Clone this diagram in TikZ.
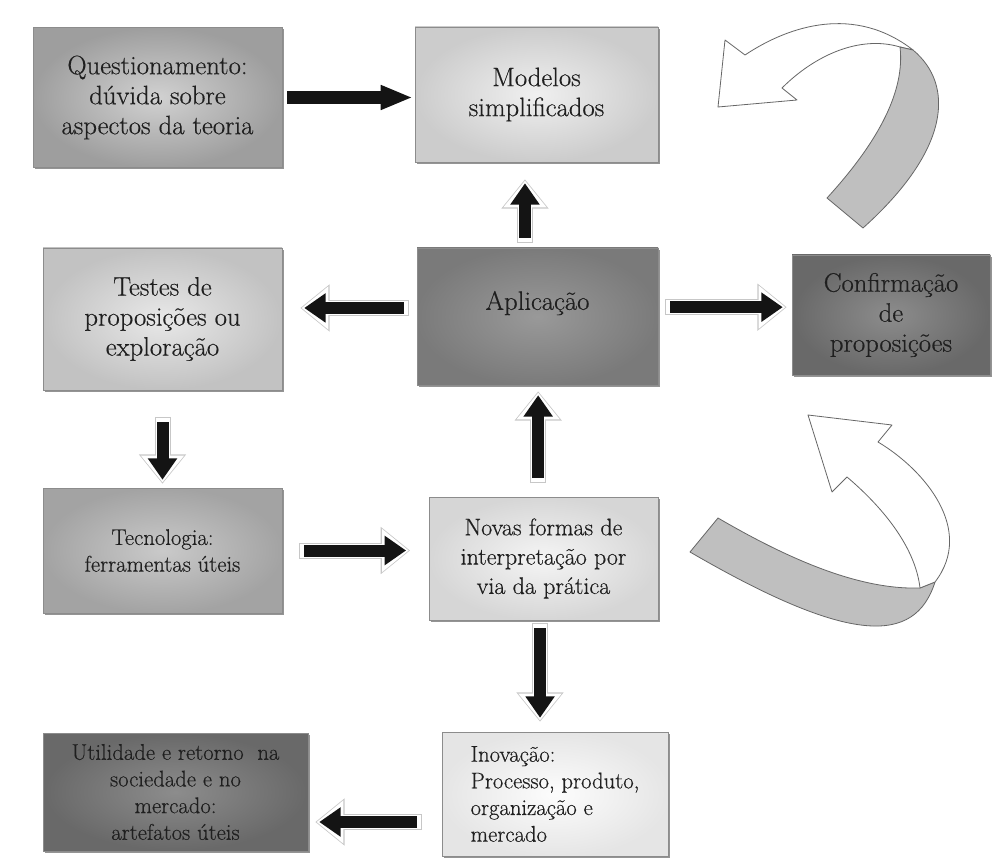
\documentclass[tikz,border=0pt]{standalone}
\usepackage{fontspec}
\newfontfamily\caixafont{Latin Modern Roman}[FakeBold=0.45]
\usetikzlibrary{arrows.meta,shadows}
\tikzset{
  caixa/.style={draw=black!45, line width=0.4pt, inner sep=0pt, align=center, text=black!88,
    drop shadow={shadow xshift=1.2pt, shadow yshift=-1.5pt, opacity=0.6, fill=black!70}},
  grande/.style={font=\caixafont\fontsize{20}{22.5}\selectfont},
  media/.style={font=\caixafont\fontsize{18}{22}\selectfont},
  pequena/.style={font=\caixafont\fontsize{17}{20}\selectfont},
  seta/.style={line width=9pt, black!92, -{Triangle[length=16pt,width=21pt]}},
  brilho/.style={line width=12pt, black!22, shorten <=-4pt, shorten >=-3pt, -{Triangle[length=22pt,width=34pt]}},
  brilhoin/.style={line width=10.5pt, white, shorten <=-3.3pt, shorten >=-2pt, -{Triangle[length=20pt,width=31pt]}},
  fita/.style={draw=black!60, line width=0.6pt, line join=round}
}
\begin{document}
\begin{tikzpicture}[x=0.75pt, y=-0.75pt]
  \useasboundingbox (0,0) rectangle (992,859);
  % caixas
  \node[caixa, grande, minimum width=186.75pt, minimum height=105pt, inner color=black!18, outer color=black!38] (a) at (157.5,97.5)
    {Questionamento:\\ dúvida sobre\\ aspectos da teoria};
  \node[caixa, grande, minimum width=182.25pt, minimum height=101.25pt, inner color=black!6, outer color=black!20] (b) at (536.5,94.5)
    {Modelos\\ simplificados};
  \node[caixa, grande, minimum width=180.75pt, minimum height=102.75pt, inner color=black!40, outer color=black!52,
    text height=15pt, text depth=25pt] (c) at (537.5,316.5) {Aplicação};
  \node[caixa, grande, minimum width=179.25pt, minimum height=106.5pt, inner color=black!9, outer color=black!24] (d) at (162.5,319)
    {Testes de\\ proposições ou\\ exploração};
  \node[caixa, grande, minimum width=148.5pt, minimum height=90pt, inner color=black!45, outer color=black!59] (e) at (891,315)
    {Confirmação\\ de\\ proposições};
  \node[caixa, pequena, minimum width=179.25pt, minimum height=93.75pt, inner color=black!21, outer color=black!36] (f) at (162.5,550.5)
    {Tecnologia:\\ ferramentas úteis};
  \node[caixa, media, minimum width=171.75pt, minimum height=92.25pt, inner color=black!4, outer color=black!16] (g) at (543.5,558.5)
    {Novas formas de\\ interpretação por\\ via da prática};
  \node[caixa, pequena, align=left, minimum width=169.5pt, minimum height=93pt, inner color=black!1, outer color=black!10] (h) at (555,794)
    {Inovação:\\ Processo, produto,\\ organização e\\ mercado};
  \node[caixa, pequena, minimum width=198.75pt, minimum height=88.5pt, inner color=black!45, outer color=black!59] (i) at (175.5,792)
    {Utilidade e retorno\ \ na\\ sociedade e no\\ mercado:\\ artefatos úteis};

  % setas
  \draw[line width=9.5pt, black!92, -{Triangle[length=24pt,width=17pt]}] ([xshift=3.75pt]a.east) -- ([xshift=-1.5pt]a.east -| b.west);
  \coordinate (s2) at ([xshift=-9.4pt,yshift=7.5pt]c.north);
  \coordinate (t2) at ([xshift=-9.4pt,yshift=-15.75pt]c.north |- b.south);
  \coordinate (s3) at ([xshift=-9.75pt,yshift=6.4pt]c.west);
  \coordinate (t3) at ([xshift=16.5pt,yshift=6.4pt]c.west -| d.east);
  \coordinate (s4) at ([xshift=9pt,yshift=7pt]c.east);
  \coordinate (t4) at ([xshift=-6.75pt,yshift=7pt]c.east -| e.west);
  \coordinate (s5) at ([yshift=-24pt]d.south);
  \coordinate (t5) at ([yshift=6pt]d.south |- f.north);
  \coordinate (s6) at ([xshift=16.5pt]f.east);
  \coordinate (t6) at ([xshift=-17pt]f.east -| g.west);
  \coordinate (s7) at ([xshift=-4pt,yshift=14pt]g.north);
  \coordinate (t7) at ([xshift=-4pt,yshift=-7.5pt]g.north |- c.south);
  \coordinate (s8) at ([xshift=-2.6pt,yshift=-6pt]g.south);
  \coordinate (t8) at ([xshift=-2.6pt,yshift=10.5pt]g.south |- h.north);
  \coordinate (s9) at ([xshift=-18.75pt,yshift=-21pt]h.west);
  \coordinate (t9) at ([xshift=8.25pt,yshift=-21pt]h.west -| i.east);
  \foreach \p/\q in {s2/t2, s3/t3, s4/t4, s5/t5, s6/t6, s7/t7, s8/t8, s9/t9} {
    \draw[brilho] (\p) -- (\q);
    \draw[brilhoin] (\p) -- (\q);
    \draw[seta] (\p) -- (\q);
  }

  % seta curva de cima
  \filldraw[fita, fill=white] (718,107) -- (725,40) -- (745,55)
    .. controls (790,25) and (855,5) .. (913,50) -- (900,47)
    .. controls (860,35) and (815,55) .. (782,88) -- (797,100) -- cycle;
  \filldraw[fita, fill=black!25] (913,50) .. controls (955,85) and (950,150) .. (863,228)
    -- (827,198) .. controls (880,140) and (905,90) .. (900,47) -- cycle;
  % seta curva de baixo
  \filldraw[fita, fill=black!25] (718,518) .. controls (790,560) and (860,590) .. (920,588)
    -- (935,582) .. controls (915,645) and (850,645) .. (690,552) -- cycle;
  \filldraw[fita, fill=white] (808,415) -- (892,425) -- (878,442)
    .. controls (925,470) and (975,530) .. (935,582) -- (920,588)
    .. controls (915,545) and (880,505) .. (847,477) -- (832,492) -- cycle;
\end{tikzpicture}
\end{document}
